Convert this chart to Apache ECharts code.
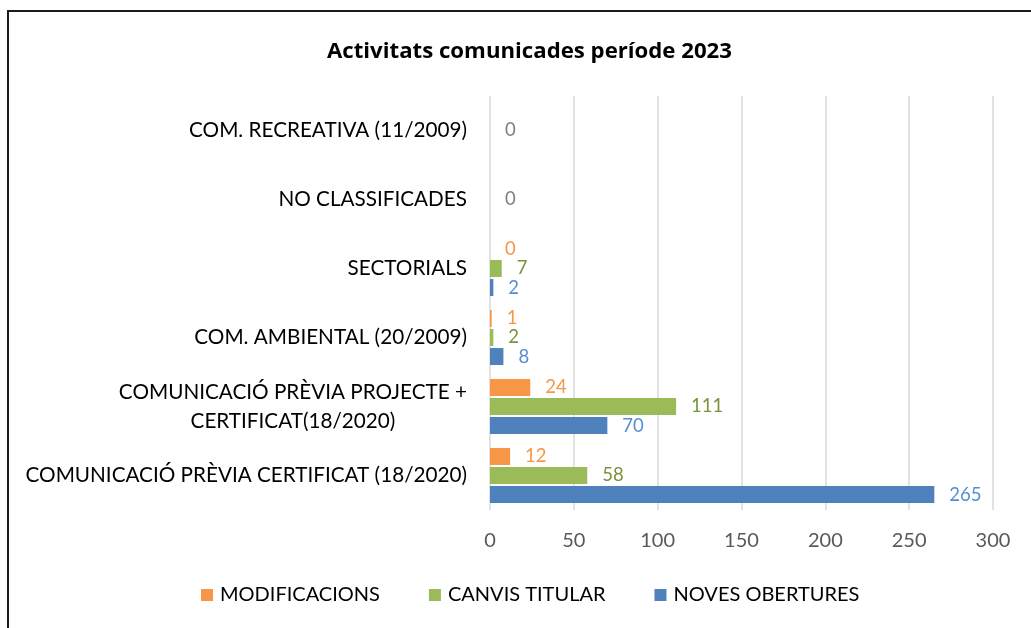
<!DOCTYPE html>
<html>
<head>
<meta charset="utf-8">
<script src="https://cdn.jsdelivr.net/npm/echarts@6/dist/echarts.min.js"></script>
<style>
  html, body { margin: 0; padding: 0; background: #fff; }
  #chart { width: 1031px; height: 628px; }
</style>
</head>
<body>
<div id="chart"></div>
<script>
const categories = [
  "COMUNICACIÓ PRÈVIA CERTIFICAT (18/2020)",
  "COMUNICACIÓ PRÈVIA PROJECTE + CERTIFICAT(18/2020)",
  "COM. AMBIENTAL (20/2009)",
  "SECTORIALS",
  "NO CLASSIFICADES",
  "COM. RECREATIVA (11/2009)",
];
const modificacions = [12, 24, 1, 0, null, null];
const canvisTitular = [58, 111, 2, 7, 0, 0];
const novesObertures = [265, 70, 8, 2, null, null];

const font = "Lato";
const chart = echarts.init(document.getElementById("chart"));

// the two top rows only carry a grey "0"
const greyZero = (v, i) =>
  i >= 4 ? { value: v, label: { color: "#7f7f7f" } } : v;

const barSeries = (name, data, color, labelColor) => ({
  name,
  type: "bar",
  data,
  barWidth: 17,
  barGap: "12%",
  itemStyle: { color },
  label: {
    show: true,
    position: "right",
    distance: 15,
    color: labelColor,
    fontFamily: font,
    fontSize: 18.5,
  },
});

chart.setOption({
  animation: false,
  title: {
    text: "Activitats comunicades període 2023",
    left: 322,
    top: 36,
    textStyle: { fontFamily: "Open Sans", fontWeight: "bold", fontSize: 22.2, color: "#000" },
  },
  graphic: [
    {
      type: "rect",
      shape: { x: 8, y: 11, width: 1060, height: 660 },
      style: { fill: null, stroke: "#1a1a1a", lineWidth: 2 },
    },
  ],
  legend: {
    bottom: 18,
    left: 196,
    itemWidth: 12,
    itemHeight: 12,
    itemGap: 49,
    icon: "rect",
    textStyle: { fontFamily: font, fontSize: 20, color: "#000", padding: [0, 0, 0, 2] },
    data: ["MODIFICACIONS", "CANVIS TITULAR", "NOVES OBERTURES"],
  },
  grid: { left: 490, right: 38, top: 96, bottom: 118 },
  xAxis: {
    type: "value",
    min: 0,
    max: 300,
    interval: 50,
    axisLine: { show: false },
    axisTick: { show: false },
    splitLine: { lineStyle: { color: "#d9d9d9", width: 1.5 } },
    axisLabel: { color: "#595959", fontFamily: font, fontSize: 20, margin: 21 },
  },
  yAxis: {
    type: "category",
    data: categories,
    axisLine: { show: false },
    axisTick: { show: false },
    axisLabel: {
      color: "#000",
      fontFamily: font,
      fontSize: 20.7,
      margin: 23,
      formatter: (v) =>
        v.indexOf("PROJECTE") >= 0
          ? "{c|COMUNICACIÓ PRÈVIA PROJECTE +}\n{c|CERTIFICAT(18/2020)}"
          : v,
      rich: {
        c: { align: "center", fontFamily: font, fontSize: 20.7, color: "#000", lineHeight: 29 },
      },
    },
  },
  series: [
    barSeries("MODIFICACIONS", modificacions, "#f79646", "#f79646"),
    barSeries("CANVIS TITULAR", canvisTitular.map(greyZero), "#9bbb59", "#77933c"),
    barSeries("NOVES OBERTURES", novesObertures, "#4f81bd", "#558ed5"),
  ],
});
</script>
</body>
</html>
